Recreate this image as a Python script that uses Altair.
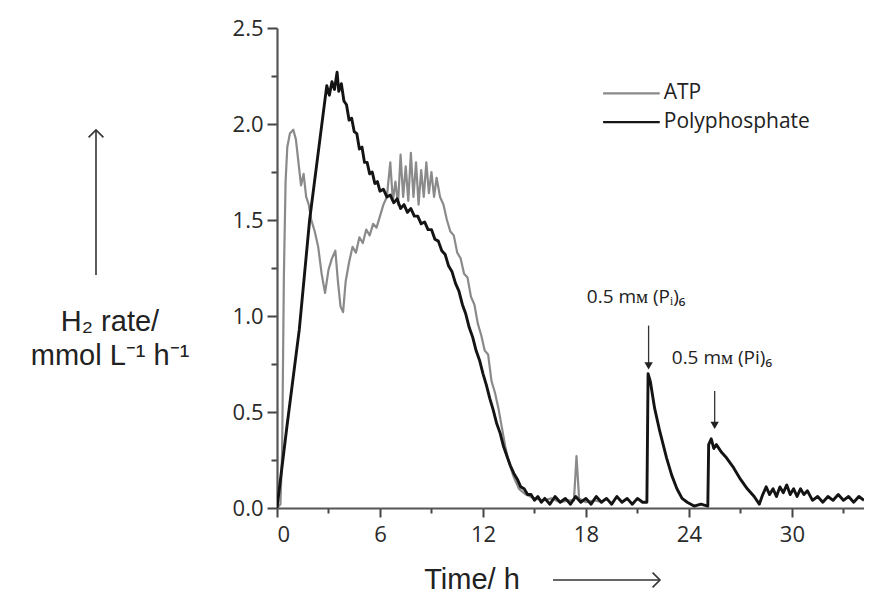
import altair as alt
import pandas as pd

# ---------------- data: (time h, rate) ----------------
poly_pts = [(0, 0.0), (0.6, 0.44), (1.3, 0.93), (1.9, 1.50), (2.5, 1.92), (2.9, 2.20),
            (3.05, 2.15), (3.2, 2.22), (3.35, 2.18), (3.5, 2.27), (3.6, 2.17), (3.75, 2.21),
            (3.9, 2.12), (4.05, 2.10), (4.2, 2.02), (4.35, 2.03), (4.5, 1.96), (4.65, 1.95),
            (4.8, 1.87), (4.95, 1.88), (5.1, 1.80), (5.25, 1.80), (5.4, 1.74), (5.55, 1.75),
            (5.7, 1.69), (5.85, 1.70), (6.0, 1.65), (6.2, 1.66), (6.4, 1.62), (6.6, 1.63),
            (6.8, 1.59), (7.0, 1.61), (7.2, 1.56), (7.4, 1.58), (7.6, 1.54), (7.8, 1.56),
            (8.0, 1.52), (8.2, 1.52), (8.4, 1.48), (8.6, 1.49), (8.8, 1.45), (9.0, 1.45),
            (9.2, 1.40), (9.4, 1.39), (9.6, 1.34), (9.8, 1.32), (10.0, 1.26), (10.2, 1.23),
            (10.4, 1.17), (10.6, 1.13), (10.8, 1.06), (11.0, 1.01), (11.2, 0.94), (11.4, 0.89),
            (11.6, 0.82), (11.8, 0.77), (12.0, 0.70), (12.2, 0.64), (12.4, 0.57), (12.6, 0.51),
            (12.8, 0.44), (13.0, 0.39), (13.2, 0.32), (13.4, 0.27), (13.6, 0.22), (13.8, 0.18),
            (14.0, 0.15), (14.2, 0.11), (14.4, 0.10), (14.6, 0.07), (14.8, 0.07), (15.0, 0.04),
            (15.2, 0.06), (15.4, 0.03), (15.6, 0.05), (15.9, 0.02), (16.2, 0.06), (16.5, 0.03),
            (16.8, 0.05), (17.1, 0.02), (17.4, 0.06), (17.7, 0.03), (18.0, 0.05), (18.3, 0.02),
            (18.6, 0.06), (18.9, 0.03), (19.2, 0.05), (19.5, 0.02), (19.8, 0.06), (20.1, 0.03),
            (20.4, 0.05), (20.7, 0.02), (21.0, 0.05), (21.3, 0.03), (21.55, 0.03), (21.62, 0.70),
            (21.75, 0.66), (22.0, 0.52), (22.3, 0.40), (22.7, 0.26), (23.0, 0.17), (23.3, 0.10),
            (23.6, 0.05), (23.9, 0.03), (24.3, 0.01), (24.7, 0.02), (25.1, 0.01), (25.15, 0.33),
            (25.3, 0.36), (25.45, 0.31), (25.6, 0.33), (25.9, 0.29), (26.2, 0.26), (26.6, 0.21),
            (27.0, 0.15), (27.4, 0.10), (27.8, 0.06), (28.1, 0.02), (28.3, 0.07), (28.5, 0.11),
            (28.7, 0.07), (28.9, 0.10), (29.1, 0.06), (29.3, 0.11), (29.5, 0.08), (29.7, 0.12),
            (29.9, 0.07), (30.1, 0.10), (30.3, 0.06), (30.5, 0.10), (30.7, 0.07), (30.9, 0.09),
            (31.2, 0.04), (31.5, 0.06), (31.8, 0.03), (32.1, 0.06), (32.4, 0.04), (32.7, 0.07),
            (33.0, 0.04), (33.3, 0.06), (33.6, 0.03), (33.9, 0.06), (34.2, 0.04)]

atp_pts = [(0, 0.0), (0.2, 0.02), (0.3, 0.30), (0.4, 1.20), (0.5, 1.70), (0.6, 1.88),
           (0.75, 1.95), (0.95, 1.97), (1.1, 1.92), (1.25, 1.80), (1.4, 1.68), (1.55, 1.74),
           (1.7, 1.62), (1.85, 1.58), (2.0, 1.50), (2.2, 1.44), (2.4, 1.36), (2.6, 1.22),
           (2.8, 1.12), (3.0, 1.24), (3.2, 1.30), (3.4, 1.34), (3.55, 1.18), (3.7, 1.05),
           (3.85, 1.02), (4.0, 1.18), (4.2, 1.28), (4.4, 1.36), (4.6, 1.33), (4.8, 1.41),
           (5.0, 1.38), (5.2, 1.45), (5.4, 1.42), (5.6, 1.48), (5.8, 1.46), (6.0, 1.52),
           (6.2, 1.58), (6.4, 1.62), (6.6, 1.80), (6.75, 1.60), (6.9, 1.70), (7.05, 1.58),
           (7.2, 1.84), (7.35, 1.62), (7.5, 1.78), (7.65, 1.60), (7.8, 1.85), (7.95, 1.62),
           (8.1, 1.80), (8.25, 1.58), (8.4, 1.76), (8.55, 1.62), (8.7, 1.80), (8.85, 1.64),
           (9.0, 1.75), (9.15, 1.62), (9.3, 1.72), (9.5, 1.62), (9.7, 1.58), (9.9, 1.50),
           (10.1, 1.44), (10.3, 1.42), (10.5, 1.33), (10.7, 1.30), (10.9, 1.22), (11.1, 1.20),
           (11.3, 1.10), (11.5, 1.06), (11.7, 0.96), (11.9, 0.90), (12.1, 0.82), (12.3, 0.80),
           (12.5, 0.66), (12.7, 0.60), (12.9, 0.52), (13.1, 0.42), (13.3, 0.32), (13.5, 0.24),
           (13.8, 0.16), (14.1, 0.10), (14.5, 0.07), (15.0, 0.05), (15.5, 0.04), (16.0, 0.05),
           (16.5, 0.03), (17.0, 0.04), (17.3, 0.04), (17.45, 0.27), (17.6, 0.05), (18.0, 0.03),
           (18.5, 0.04), (19.0, 0.03)]

series_names = ["ATP", "Polyphosphate"]
series_colors = ["#8a8a8a", "#141414"]
series_widths = [2.2, 2.9]

x_major = [0, 6, 12, 18, 24, 30]
x_minor = [3, 9, 15, 21, 27, 33]
y_major = [0, 0.5, 1.0, 1.5, 2.0, 2.5]
y_minor = [0.25, 0.75, 1.25, 1.75, 2.25]

# legend entries (data coordinates)
leg_names = ["ATP", "Polyphosphate"]
leg_t0 = [19.0, 19.0]
leg_t1 = [22.3, 22.3]
leg_y = [2.16, 2.01]

# addition annotations
ann_text = ["0.5 mᴍ (Pᵢ)₆", "0.5 mᴍ (Pi)₆"]
ann_tx = [18.05, 23.0]
ann_ty = [1.10, 0.78]
ann_ax = [21.65, 25.5]
ann_ytop = [0.95, 0.61]
ann_ybot = [0.74, 0.43]

# ---------------- chart ----------------
def to_df(pts, name):
    return pd.DataFrame({"t": [p[0] for p in pts], "v": [p[1] for p in pts],
                         "s": name, "o": list(range(len(pts)))})

df = pd.concat([to_df(atp_pts, "ATP"), to_df(poly_pts, "Polyphosphate")])

xs = alt.Scale(domain=[0, 34.2], nice=False, zero=False)
ys = alt.Scale(domain=[0, 2.5], nice=False)
cs = alt.Scale(domain=series_names, range=series_colors)
ws = alt.Scale(domain=series_names, range=series_widths)

FONT = "Open Sans"
AX = "#555555"
TK = "#444444"

x_axis = alt.Axis(
    title=None, values=x_major, orient="bottom", tickSize=9, ticks=True,
    labelFont=FONT, labelFontSize=22, labelColor="#2a2a2a", labelPadding=7,
    domainColor=AX, domainWidth=2.2, tickColor=TK, tickWidth=2, tickOpacity=1,
    domainOpacity=1, grid=False,
)
y_axis = alt.Axis(
    title=None, values=y_major, format=".1f", orient="left", tickSize=10, ticks=True,
    labelFont=FONT, labelFontSize=22, labelColor="#2a2a2a", labelPadding=4,
    domainColor=AX, domainWidth=2.2, tickColor=TK, tickWidth=2, tickOpacity=1,
    domainOpacity=1, grid=False,
)
x_axis_minor = alt.Axis(title=None, values=x_minor, orient="bottom", tickSize=5, ticks=True,
                        labels=False, domain=False, tickColor=TK, tickWidth=2,
                        tickOpacity=1, grid=False)
y_axis_minor = alt.Axis(title=None, values=y_minor, orient="left", tickSize=6, ticks=True,
                        labels=False, domain=False, tickColor=TK, tickWidth=2,
                        tickOpacity=1, grid=False)

lines = alt.Chart(df).mark_line(clip=True, strokeJoin="round").encode(
    x=alt.X("t:Q", scale=xs, axis=x_axis),
    y=alt.Y("v:Q", scale=ys, axis=y_axis),
    color=alt.Color("s:N", scale=cs, legend=None),
    strokeWidth=alt.StrokeWidth("s:N", scale=ws, legend=None),
    detail="s:N",
    order="o:Q",
)

minor = alt.Chart(df).mark_line(opacity=0).encode(
    x=alt.X("t:Q", scale=xs, axis=x_axis_minor),
    y=alt.Y("v:Q", scale=ys, axis=y_axis_minor),
    detail="s:N",
)

leg_df = pd.DataFrame({"s": leg_names, "t0": leg_t0, "t1": leg_t1, "y": leg_y})
leg_lines = alt.Chart(leg_df).mark_rule(strokeWidth=2.2).encode(
    x=alt.X("t0:Q", axis=None), x2="t1:Q", y=alt.Y("y:Q", axis=None),
    color=alt.Color("s:N", scale=cs, legend=None),
)
leg_text = alt.Chart(leg_df).mark_text(
    align="left", baseline="middle", dx=4, font=FONT, fontSize=21, color="#222"
).encode(x=alt.X("t1:Q", axis=None), y=alt.Y("y:Q", axis=None), text="s:N")

ann_df = pd.DataFrame({"label": ann_text, "tx": ann_tx, "ty": ann_ty,
                       "ax": ann_ax, "ytop": ann_ytop, "ybot": ann_ybot})
ann_labels = alt.Chart(ann_df).mark_text(
    align="left", baseline="middle", font=FONT, fontSize=19, color="#222"
).encode(x=alt.X("tx:Q", axis=None), y=alt.Y("ty:Q", axis=None), text="label:N")
ann_rules = alt.Chart(ann_df).mark_rule(color="#333", strokeWidth=1.3).encode(
    x=alt.X("ax:Q", axis=None), y=alt.Y("ytop:Q", axis=None), y2="ybot:Q")
ann_heads = alt.Chart(ann_df).mark_point(
    shape="triangle-down", filled=True, color="#222", size=70, opacity=1
).encode(x=alt.X("ax:Q", axis=None), y=alt.Y("ybot:Q", axis=None))

# axis titles with arrows (positioned in pixels of the plot area)
ttl = pd.DataFrame({"a": [1]})
y_title1 = alt.Chart(ttl).mark_text(font="Liberation Sans", fontSize=29, color="#222",
                                    align="center", baseline="middle").encode(
    x=alt.value(-167), y=alt.value(294), text=alt.value("H₂ rate/"))
y_title2 = alt.Chart(ttl).mark_text(font="Liberation Sans", fontSize=29, color="#222",
                                    align="center", baseline="middle").encode(
    x=alt.value(-167), y=alt.value(328), text=alt.value("mmol L⁻¹ h⁻¹"))
y_arrow = alt.Chart(ttl).mark_rule(color="#333", strokeWidth=1.6).encode(
    x=alt.value(-181), y=alt.value(247), y2=alt.value(102))
y_head = alt.Chart(ttl).mark_point(shape="M-1,1L0,0L1,1", filled=False, color="#333",
                                   strokeWidth=1.6, size=220, opacity=1).encode(
    x=alt.value(-181), y=alt.value(102))
x_title = alt.Chart(ttl).mark_text(font="Liberation Sans", fontSize=29, color="#222",
                                   align="center", baseline="middle").encode(
    x=alt.value(195), y=alt.value(552), text=alt.value("Time/ h"))
x_arrow = alt.Chart(ttl).mark_rule(color="#333", strokeWidth=1.6).encode(
    x=alt.value(276), x2=alt.value(383), y=alt.value(552))
x_head = alt.Chart(ttl).mark_point(shape="M-1,-1L0,0L-1,1", filled=False, color="#333",
                                   strokeWidth=1.6, size=220, opacity=1).encode(
    x=alt.value(383), y=alt.value(552))

chart = alt.layer(
    minor, lines, leg_lines, leg_text, ann_labels, ann_rules, ann_heads,
    y_title1, y_title2, y_arrow, y_head, x_title, x_arrow, x_head,
).resolve_axis(x="independent", y="independent").properties(
    width=587, height=480,
    autosize=alt.AutoSizeParams(type="none"),
    padding={"left": 269, "top": 20, "right": 0, "bottom": 95},
    background="white",
).configure_view(stroke=None).configure_axis(ticks=True, domainWidth=2.2, tickWidth=2)

chart.save("out.html", embed_options={"renderer": "svg", "actions": False})
